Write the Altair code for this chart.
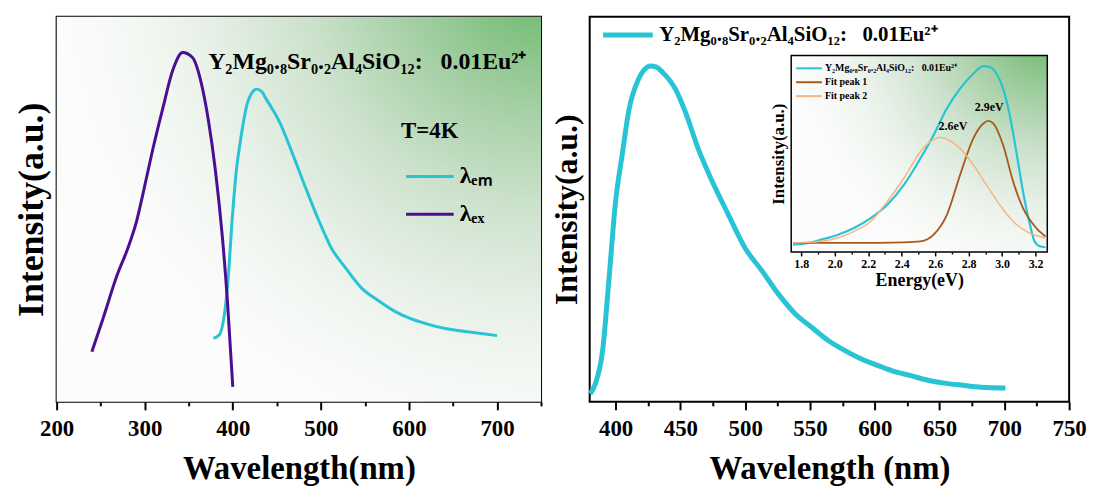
import altair as alt
import pandas as pd

FONT = "Liberation Serif"
CYAN = "#29c3d6"
PURPLE = "#4a0e93"
BROWN = "#a85a1e"
PEACH = "#f6b485"

COMPOUND = "Y₂Mg₀.₈Sr₀.₂Al₄SiO₁₂:\u00a0\u00a0 0.01Eu²⁺"
LAM_EM = "λₑₘ"
LAM_EX = "λₑₓ"

# ---- left panel: excitation (purple) and emission (cyan), T=4K
ex_nm = [240, 252.6, 268.5, 280.5, 290.4, 298.4, 308.4, 320.3, 332.3, 343, 354.2, 364.1, 372.1, 380.1, 388, 394, 400]
ex_int = [0.130, 0.216, 0.328, 0.397, 0.466, 0.544, 0.648, 0.760, 0.864, 0.907, 0.894, 0.829, 0.734, 0.604, 0.432, 0.259, 0.039]

em_nm = [378, 385, 390, 394, 400, 404, 408, 412, 416, 421, 427, 433, 438, 445, 453, 467, 483, 498,
         512, 528, 546, 565, 584, 602, 621, 640, 660, 680, 700]
em_int = [0.165, 0.175, 0.220, 0.300, 0.495, 0.600, 0.668, 0.725, 0.771, 0.800, 0.812, 0.805, 0.786,
          0.760, 0.727, 0.649, 0.554, 0.469, 0.399, 0.348, 0.296, 0.263, 0.235, 0.216, 0.202, 0.191,
          0.184, 0.178, 0.172]

# ---- right panel: emission
r_nm = [380.4, 384.6, 390, 394.6, 400, 405.4, 410, 417.7, 422, 427, 431, 436.2, 446.2, 453.8, 463.8,
        474.6, 486.9, 500, 513, 525.4, 538.5, 551.5, 563.8, 576, 588, 601, 614, 628, 641, 655, 668,
        682, 700.8]
r_int = [0.021, 0.049, 0.134, 0.307, 0.521, 0.649, 0.753, 0.838, 0.862, 0.872, 0.870, 0.856, 0.812,
         0.753, 0.657, 0.572, 0.487, 0.399, 0.340, 0.281, 0.229, 0.193, 0.160, 0.135, 0.114, 0.096,
         0.080, 0.068, 0.056, 0.048, 0.043, 0.038, 0.036]

# ---- inset: energy domain
in_e = [1.751, 1.84, 1.92, 2.02, 2.116, 2.215, 2.314, 2.413, 2.512, 2.591, 2.67, 2.749, 2.828, 2.888,
        2.927, 2.967, 3.006, 3.046, 3.085, 3.125, 3.164, 3.194, 3.224, 3.259]
in_v = [0.037, 0.046, 0.063, 0.088, 0.122, 0.172, 0.240, 0.341, 0.476, 0.595, 0.730, 0.831, 0.907,
        0.946, 0.941, 0.907, 0.831, 0.696, 0.510, 0.307, 0.147, 0.054, 0.029, 0.024]

f1_e = [1.751, 2.116, 2.413, 2.512, 2.591, 2.67, 2.749, 2.828, 2.888, 2.917, 2.947, 3.006, 3.066, 3.125, 3.204, 3.259]
f1_v = [0.046, 0.046, 0.049, 0.054, 0.088, 0.189, 0.392, 0.578, 0.654, 0.667, 0.654, 0.544, 0.358, 0.223, 0.122, 0.079]

f2_e = [1.751, 1.92, 2.116, 2.215, 2.314, 2.413, 2.512, 2.571, 2.631, 2.69, 2.749, 2.828, 2.907, 2.986, 3.066, 3.145, 3.259]
f2_v = [0.046, 0.054, 0.105, 0.155, 0.257, 0.375, 0.510, 0.561, 0.583, 0.566, 0.527, 0.443, 0.341, 0.240, 0.155, 0.105, 0.071]

peak_labels = ["2.6eV", "2.9eV"]
peak_e = [2.706, 2.923]
peak_v = [0.62, 0.716]

LEFT_TICKS = list(range(200, 751, 50))
RIGHT_TICKS = list(range(400, 751, 25))
INSET_TICKS = [round(1.8 + 0.1 * i, 1) for i in range(15)]


def grad():
    stops = [(0, "#5cb55c"), (0.15, "#84c384"), (0.3, "#a7d0a7"), (0.5, "#cde2cd"),
             (0.7, "#e7f0e7"), (0.85, "#f4f8f4"), (1, "#fbfcfb")]
    return {"gradient": "radial", "x1": 1, "y1": 0, "r1": 0, "x2": 1, "y2": 0, "r2": 1,
            "stops": [{"offset": o, "color": c} for o, c in stops]}


XAX = dict(labelFont=FONT, labelFontSize=23, labelFontWeight="bold", labelColor="black",
           labelPadding=8, labelFlush=False, labelOverlap=False, tickColor="black", tickWidth=2,
           domain=False, grid=False, titleFont=FONT, titleFontSize=33, titleFontWeight="bold",
           titleColor="black", titlePadding=12)
YAX = dict(labels=False, ticks=False, domain=False, grid=False, titleFont=FONT,
           titleFontWeight="bold", titleColor="black", titlePadding=6)

# ---------------- left panel
xL = alt.X("x:Q", scale=alt.Scale(domain=[200, 750], nice=False, zero=False),
           axis=alt.Axis(values=LEFT_TICKS, labelExpr="datum.value % 100 == 0 ? datum.label : ''",
                         tickSize={"condition": {"test": "datum.value % 100 == 0", "value": 8}, "value": 4},
                         title="Wavelength(nm)", **XAX))
yL = alt.Y("y:Q", scale=alt.Scale(domain=[0, 1], nice=False, zero=False),
           axis=alt.Axis(title="Intensity(a.u.)", titleFontSize=36, **YAX))

bgL = alt.Chart(pd.DataFrame({"x": [200], "x2": [750], "y": [0], "y2": [1]})).mark_rect(
    fill=grad(), strokeWidth=0).encode(x=xL, x2=alt.X2("x2"), y=yL, y2=alt.Y2("y2"))

dfL = pd.concat([
    pd.DataFrame({"x": em_nm, "y": em_int, "s": LAM_EM}),
    pd.DataFrame({"x": ex_nm, "y": ex_int, "s": LAM_EX}),
])
linesL = alt.Chart(dfL).mark_line(strokeWidth=3, interpolate="monotone").encode(
    x=xL, y=yL,
    color=alt.Color("s:N", scale=alt.Scale(domain=[LAM_EM, LAM_EX], range=[CYAN, PURPLE]),
                    legend=alt.Legend(orient="none", legendX=347, legendY=104, title="T=4K",
                                      titleFont=FONT, titleFontSize=23, titleFontWeight="bold",
                                      titleColor="black", titlePadding=22, labelFont=FONT,
                                      labelFontSize=24, labelFontWeight="bold", labelColor="black",
                                      symbolType="M-0.7,0H4.1", symbolSize=400, symbolStrokeWidth=3,
                                      labelOffset=35, rowPadding=14, padding=0, labelLimit=400)))

textL = alt.Chart(pd.DataFrame({"x": [372], "y": [0.863], "t": [COMPOUND]})).mark_text(
    align="left", baseline="alphabetic", font=FONT, fontSize=24, fontWeight="bold", color="black"
).encode(x=xL, y=yL, text="t:N")

left = alt.layer(bgL, linesL, textL).properties(width=488, height=388)

# ---------------- right panel
xR = alt.X("x:Q", scale=alt.Scale(domain=[380, 750], nice=False, zero=False),
           axis=alt.Axis(values=RIGHT_TICKS, labelExpr="datum.value % 50 == 0 ? datum.label : ''",
                         tickSize={"condition": {"test": "datum.value % 50 == 0", "value": 8}, "value": 4},
                         title="Wavelength (nm)", orient="bottom", **XAX))
yR = alt.Y("y:Q", scale=alt.Scale(domain=[0, 1], nice=False, zero=False),
           axis=alt.Axis(title="Intensity(a.u.)", titleFontSize=32, orient="left", **YAX))

mainR = alt.Chart(pd.DataFrame({"x": r_nm, "y": r_int, "s": COMPOUND})).mark_line(
    strokeWidth=5, interpolate="monotone").encode(
    x=xR, y=yR,
    color=alt.Color("s:N", scale=alt.Scale(domain=[COMPOUND], range=[CYAN]),
                    legend=alt.Legend(orient="none", legendX=11, legendY=6, title=None,
                                      labelFont=FONT, labelFontSize=21, labelFontWeight="bold",
                                      labelColor="black", symbolType="M-1,0H4", symbolSize=400,
                                      symbolStrokeWidth=5, labelOffset=34, padding=0, labelLimit=600)))

xI = alt.X("e:Q", scale=alt.Scale(domain=[1.74, 3.27], range=[203, 461], nice=False, zero=False),
           axis=alt.Axis(orient="bottom", offset=-151, values=INSET_TICKS, format=".1f",
                         labelExpr="round(datum.value * 10) % 2 == 0 ? datum.label : ''",
                         tickSize={"condition": {"test": "round(datum.value * 10) % 2 == 0", "value": 4}, "value": 2},
                         labelFont=FONT, labelFontSize=12, labelFontWeight="bold", labelColor="black",
                         labelPadding=3, labelFlush=False, labelOverlap=False, tickColor="black",
                         tickWidth=1.5, domain=False, grid=False, title="Energy(eV)", titleFont=FONT,
                         titleFontSize=18, titleFontWeight="bold", titleColor="black", titlePadding=2))
yI = alt.Y("v:Q", scale=alt.Scale(domain=[0, 1], range=[237, 39], nice=False, zero=False),
           axis=alt.Axis(orient="left", offset=-203, labels=False, ticks=False, domain=False, grid=False,
                         title="Intensity(a.u.)", titleFont=FONT, titleFontSize=17,
                         titleFontWeight="bold", titleColor="black", titlePadding=4))

bgI = alt.Chart(pd.DataFrame({"e": [1.74], "e2": [3.27], "v": [0], "v2": [1]})).mark_rect(
    fill=grad(), stroke="black", strokeWidth=1.5).encode(x=xI, x2=alt.X2("e2"), y=yI, y2=alt.Y2("v2"))

dfI = pd.concat([
    pd.DataFrame({"e": in_e, "v": in_v, "s": COMPOUND}),
    pd.DataFrame({"e": f1_e, "v": f1_v, "s": "Fit peak 1"}),
    pd.DataFrame({"e": f2_e, "v": f2_v, "s": "Fit peak 2"}),
])
linesI = alt.Chart(dfI).mark_line(interpolate="monotone").encode(
    x=xI, y=yI,
    color=alt.Color("s:N", scale=alt.Scale(domain=[COMPOUND, "Fit peak 1", "Fit peak 2"],
                                           range=[CYAN, BROWN, PEACH]),
                    legend=alt.Legend(orient="none", legendX=207, legendY=46, title=None,
                                      labelFont=FONT, labelFontSize=10, labelFontWeight="bold",
                                      labelColor="black", symbolType="M-1,0H4.2", symbolSize=100,
                                      symbolStrokeWidth=2, labelOffset=18, rowPadding=3, padding=0,
                                      labelLimit=400)),
    strokeWidth=alt.StrokeWidth("s:N", scale=alt.Scale(domain=[COMPOUND, "Fit peak 1", "Fit peak 2"],
                                                       range=[2.2, 1.5, 1.5]), legend=None),
)
textI = alt.Chart(pd.DataFrame({"e": peak_e, "v": peak_v, "t": peak_labels})).mark_text(
    align="center", baseline="alphabetic", font=FONT, fontSize=12, fontWeight="bold", color="black"
).encode(x=xI, y=yI, text="t:N")

inset = alt.layer(bgI, linesI, textI)

right = alt.layer(mainR, inset).resolve_scale(
    x="independent", y="independent", color="independent").properties(width=483, height=388)

chart = alt.hconcat(left, right, spacing=49, bounds="flush").resolve_scale(
    color="independent"
).properties(
    padding={"left": 5, "top": 6, "right": 0, "bottom": 0}
).configure(font=FONT).configure_view(stroke="black", strokeWidth=2)

chart.save("out.html", embed_options={"renderer": "svg", "actions": False})
